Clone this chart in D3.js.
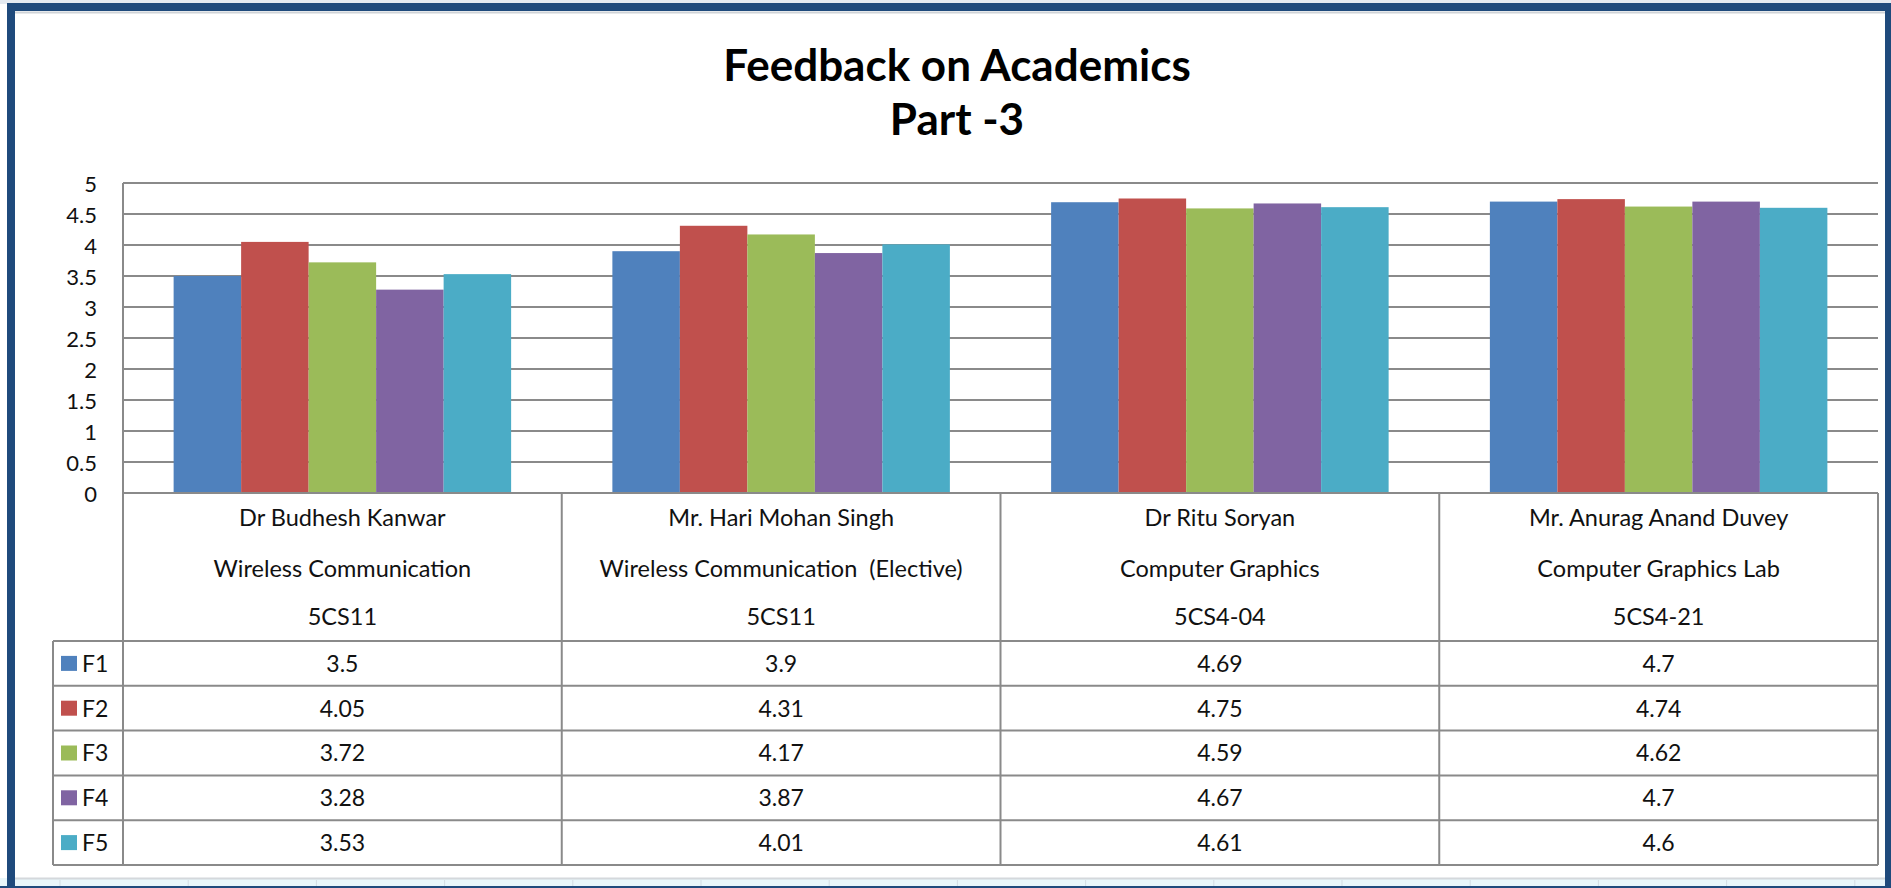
<!DOCTYPE html>
<html>
<head>
<meta charset="utf-8">
<script src="https://cdn.jsdelivr.net/npm/d3@7"></script>
<style>
  html, body { margin: 0; padding: 0; background: #ffffff; }
  svg { display: block; }
  text { font-family: Lato, "Noto Sans", sans-serif; fill: #111; }
</style>
</head>
<body>
<script>
// ---------------- DATA ----------------
const titleLines = ["Feedback on Academics", "Part -3"];
const teachers = ["Dr Budhesh Kanwar", "Mr. Hari Mohan Singh", "Dr Ritu Soryan", "Mr. Anurag Anand Duvey"];
const subjects = ["Wireless Communication", "Wireless Communication  (Elective)", "Computer Graphics", "Computer Graphics Lab"];
const codes = ["5CS11", "5CS11", "5CS4-04", "5CS4-21"];
const seriesNames = ["F1", "F2", "F3", "F4", "F5"];
const F1 = [3.5, 3.9, 4.69, 4.7];
const F2 = [4.05, 4.31, 4.75, 4.74];
const F3 = [3.72, 4.17, 4.59, 4.62];
const F4 = [3.28, 3.87, 4.67, 4.7];
const F5 = [3.53, 4.01, 4.61, 4.6];
const yTicks = [0, 0.5, 1, 1.5, 2, 2.5, 3, 3.5, 4, 4.5, 5];
const colors = ["#4F81BD", "#C0504D", "#9BBB59", "#8064A2", "#4BACC6"];

const seriesValues = [F1, F2, F3, F4, F5];
const catIdx = d3.range(teachers.length);

// ---------------- LAYOUT ----------------
const W = 1891, H = 888;
const plotL = 123, plotR = 1878, plotT = 183, plotB = 493;
const tableL = 53, headerB = 641, tableB = 865;
const gridColor = "#8a8a8a";
const cellFont = 23;

const svg = d3.select("body").append("svg").attr("width", W).attr("height", H);

// ---- window frame ----
svg.append("rect").attr("x", 0).attr("y", 0).attr("width", W).attr("height", H).attr("fill", "#ffffff");
svg.append("rect").attr("x", 0).attr("y", 0).attr("width", W).attr("height", 4).attr("fill", "#e4eaf1");
svg.append("rect").attr("x", 0).attr("y", 878).attr("width", W).attr("height", 10).attr("fill", "#e8f6fa");
svg.append("line").attr("x1", 15).attr("x2", 1885).attr("y1", 878.5).attr("y2", 878.5).attr("stroke", "#d4d8dc").attr("stroke-width", 2);
const colLines = d3.range(60, 1891, 128.2);
svg.selectAll("line.col").data(colLines).join("line")
  .attr("x1", d => d).attr("x2", d => d).attr("y1", 880).attr("y2", 888)
  .attr("stroke", "#d2dde4").attr("stroke-width", 1);
svg.append("rect").attr("x", 0).attr("y", 886).attr("width", W).attr("height", 2).attr("fill", "#1f4a7c");
svg.append("rect").attr("x", 7).attr("y", 3).attr("width", 1878).attr("height", 8).attr("fill", "#1f4a7c");
svg.append("rect").attr("x", 7).attr("y", 3).attr("width", 8).attr("height", 885).attr("fill", "#1f4a7c");
svg.append("rect").attr("x", 1885).attr("y", 3).attr("width", 6).attr("height", 885).attr("fill", "#1f4a7c");
svg.append("line").attr("x1", 15).attr("x2", 1885).attr("y1", 12.5).attr("y2", 12.5).attr("stroke", "#cfd3d7").attr("stroke-width", 2);

// ---- title ----
svg.append("text").attr("x", 957).attr("y", 81).attr("text-anchor", "middle")
  .style("font-size", "44px").style("font-weight", "bold").style("fill", "#000").text(titleLines[0]);
svg.append("text").attr("x", 957).attr("y", 135).attr("text-anchor", "middle")
  .style("font-size", "44px").style("font-weight", "bold").style("fill", "#000").text(titleLines[1]);

// ---- scales ----
const y = d3.scaleLinear().domain([0, 5]).range([plotB, plotT]);
const x0 = d3.scaleBand().domain(catIdx).range([plotL, plotR]).paddingInner(0).paddingOuter(0);
const x1 = d3.scaleBand().domain(d3.range(seriesNames.length)).range([0, x0.bandwidth()]).paddingInner(0).paddingOuter(0.75);

// ---- gridlines ----
svg.append("g").selectAll("line").data(yTicks.filter(t => t > 0)).join("line")
  .attr("x1", plotL).attr("x2", plotR)
  .attr("y1", d => y(d)).attr("y2", d => y(d))
  .attr("stroke", gridColor).attr("stroke-width", 2);

// ---- y axis ----
const yAxis = d3.axisLeft(y).tickValues(yTicks).tickSize(0).tickPadding(0).tickFormat(d3.format("~g"));
const yg = svg.append("g").attr("transform", `translate(97,0)`).call(yAxis);
yg.select(".domain").remove();
yg.selectAll("text").style("font-size", "22px").style("font-family", "Lato, sans-serif").attr("fill", "#111").attr("dy", "0.4em");

// ---- bars ----
const groups = svg.append("g").selectAll("g").data(seriesValues).join("g")
  .attr("fill", (d, i) => colors[i]);
groups.each(function(vals, si) {
  d3.select(this).selectAll("rect").data(vals).join("rect")
    .attr("x", (v, ci) => x0(ci) + x1(si))
    .attr("y", v => y(v))
    .attr("width", x1.bandwidth())
    .attr("height", v => y(0) - y(v));
});

// ---- table ----
const tg = svg.append("g");
const rowScale = d3.scaleBand().domain(d3.range(seriesNames.length)).range([headerB, tableB]);
tg.append("line").attr("x1", plotL).attr("x2", plotR).attr("y1", plotB).attr("y2", plotB)
  .attr("stroke", gridColor).attr("stroke-width", 2);
const hLines = d3.range(seriesNames.length).map(i => rowScale(i)).concat([tableB]);
tg.selectAll("line.h").data(hLines).join("line")
  .attr("x1", tableL).attr("x2", plotR).attr("y1", d => d).attr("y2", d => d)
  .attr("stroke", gridColor).attr("stroke-width", 2);
const vLines = catIdx.map(i => x0(i)).concat([plotR]);
tg.selectAll("line.v").data(vLines).join("line")
  .attr("x1", d => d).attr("x2", d => d).attr("y1", (d, i) => i === 0 ? plotT : plotB).attr("y2", tableB)
  .attr("stroke", gridColor).attr("stroke-width", 2);
tg.append("line").attr("x1", tableL).attr("x2", tableL).attr("y1", headerB).attr("y2", tableB)
  .attr("stroke", gridColor).attr("stroke-width", 2);

// header text
const headerLines = [teachers, subjects, codes];
const headerY = [526, 577, 625];
headerLines.forEach((arr, li) => {
  tg.selectAll(null).data(arr).join("text")
    .attr("x", (d, i) => x0(i) + x0.bandwidth() / 2)
    .attr("y", headerY[li])
    .attr("text-anchor", "middle")
    .attr("xml:space", "preserve")
    .style("white-space", "pre")
    .style("font-size", "23.5px")
    .text(d => d);
});

// data cells
seriesValues.forEach((vals, si) => {
  const cy = rowScale(si) + rowScale.bandwidth() / 2;
  tg.selectAll(null).data(vals).join("text")
    .attr("x", (d, i) => x0(i) + x0.bandwidth() / 2)
    .attr("y", cy + 8.3)
    .attr("text-anchor", "middle")
    .style("font-size", cellFont + "px")
    .text(d => d);
  tg.append("rect").attr("x", 61).attr("y", cy - 7.5).attr("width", 16).attr("height", 15).attr("fill", colors[si]);
  tg.append("text").attr("x", 82).attr("y", cy + 8.3).style("font-size", cellFont + "px").text(seriesNames[si]);
});
</script>
</body>
</html>
